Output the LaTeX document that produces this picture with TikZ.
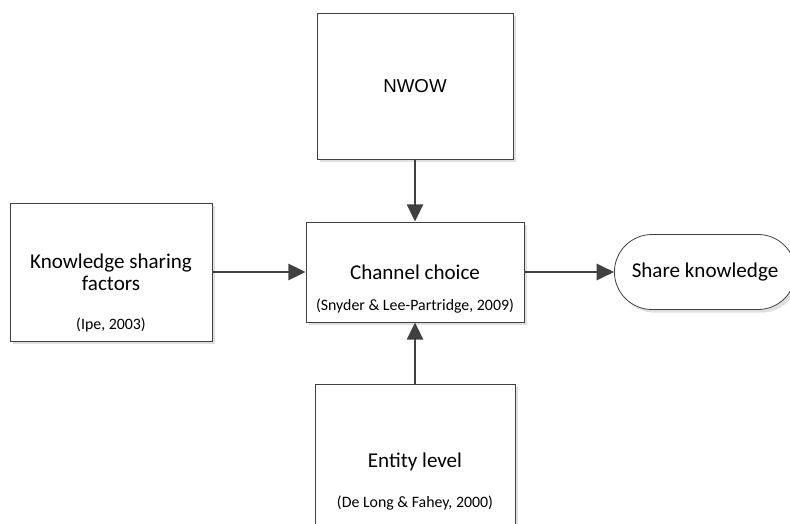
\documentclass[tikz,border=0pt]{standalone}
\usepackage{fontspec}
\setmainfont{Carlito}
\newfontfamily\nwowfont{Liberation Sans}
\usetikzlibrary{positioning,arrows.meta,shadows,shapes.misc}
\definecolor{linegray}{HTML}{404040}
\definecolor{shadegray}{HTML}{E0E0E0}

\begin{document}
\begin{tikzpicture}[x=0.75pt, y=-0.75pt,
    box/.style={draw=linegray, line width=0.6pt, fill=white, align=center, font=\fontsize{15.8}{16.5}\selectfont, drop shadow={shadow xshift=2.4pt, shadow yshift=-2.4pt, fill=shadegray, opacity=1}},
    cite/.style={font=\fontsize{11.9}{14}\selectfont, inner sep=0pt},
    arr/.style={-{Triangle[length=13pt, width=12pt]}, line width=2.2pt, draw=linegray}]
  \useasboundingbox (0,0) rectangle (790,524);
  \node[box, minimum width=151.5pt, minimum height=103.5pt] (ksf) at (111,272) {Knowledge sharing\\factors};
  \node[box, minimum width=147pt, minimum height=109.5pt, font=\nwowfont\fontsize{14}{16}\selectfont] (nwow) at (415,86) {NWOW};
  \node[box, minimum width=163.5pt, minimum height=75pt] (chan) at (415,272) {Channel choice};
  \node[box, minimum width=150pt, minimum height=117pt] (ent) at (415,462) {Entity level};
  \node[box, rounded rectangle, minimum width=142.5pt, minimum height=56.25pt] (share) at (705,272) {Share knowledge};
  \node[cite] (ipe) at (111,325) {(Ipe, 2003)};
  \node[cite] (snyder) at (415,306) {(Snyder \& Lee-Partridge, 2009)};
  \node[cite] (delong) at (415,503) {(De Long \& Fahey, 2000)};
  \foreach \a/\b in {ksf/chan, nwow/chan, ent/chan, chan/share} { \draw[arr] (\a) -- (\b); }
\end{tikzpicture}
\end{document}
